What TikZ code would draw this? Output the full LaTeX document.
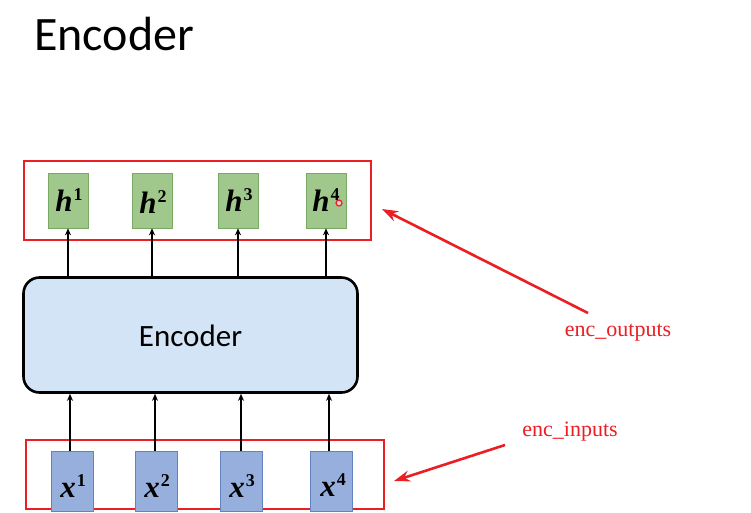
\documentclass[tikz,border=0pt]{standalone}
\usepackage{fontspec}
\newfontfamily\calfont{Carlito}
\newfontfamily\serifred{Liberation Serif}
\usetikzlibrary{arrows.meta}
\definecolor{hgreen}{RGB}{160,200,140}
\definecolor{hgreenb}{RGB}{120,170,100}
\definecolor{xblue}{RGB}{150,175,220}
\definecolor{xblueb}{RGB}{100,130,190}
\definecolor{encblue}{RGB}{210,228,245}
\definecolor{annred}{RGB}{235,30,35}
\newcommand{\vecsym}[2]{{\serifred\bfseries\itshape\fontsize{31}{31}\selectfont #1}\kern1pt\raisebox{11pt}{\serifred\bfseries\upshape\fontsize{18}{18}\selectfont #2}}
\tikzset{
  hbox/.style={draw=hgreenb, fill=hgreen, line width=0.6pt, minimum width=40pt, minimum height=55pt, inner sep=0pt},
  xbox/.style={draw=xblueb, fill=xblue, line width=0.6pt, minimum width=42pt, minimum height=60pt, inner sep=0pt},
  encbox/.style={draw=black, fill=encblue, line width=2.6pt, rounded corners=16pt, minimum width=334pt, minimum height=115pt, inner sep=0pt},
  redframe/.style={draw=annred, line width=1.6pt},
  flow/.style={-{Stealth[length=7pt,width=6pt]}, line width=1.6pt},
  annarrow/.style={annred, line width=2.6pt, -{Stealth[length=16pt,width=11pt]}},
  anntext/.style={text=annred, font=\serifred\fontsize{22}{22}\selectfont, inner sep=1pt},
}
\begin{document}
\begin{tikzpicture}[x=1pt,y=-1pt]
\useasboundingbox (0,0) rectangle (751,512);
\node[font=\calfont\fontsize{48}{48}\selectfont, anchor=base west, inner sep=0pt] (title) at (34,50) {Encoder};
% red frames
\node[redframe, minimum width=347pt, minimum height=79pt, inner sep=0pt, anchor=north west] (topframe) at (23,160) {};
\node[redframe, minimum width=358pt, minimum height=69pt, inner sep=0pt, anchor=north west] (botframe) at (25,439) {};
% encoder
\node[encbox] (enc) at (190.5,335) {};
\node[font=\calfont\fontsize{31}{31}\selectfont] (enclabel) at (190.5,336) {Encoder};
% h boxes
\node[hbox] (h1) at (68,200.5) {};
\node[hbox] (h2) at (152,200.5) {};
\node[hbox] (h3) at (238,200.5) {};
\node[hbox] (h4) at (326,200.5) {};
\node[anchor=base, inner sep=0pt] (h1t) at (69,211) {\vecsym{h}{1}};
\node[anchor=base, inner sep=0pt] (h2t) at (153,213) {\vecsym{h}{2}};
\node[anchor=base, inner sep=0pt] (h3t) at (239,211) {\vecsym{h}{3}};
\node[anchor=base, inner sep=0pt] (h4t) at (326,211) {\vecsym{h}{4}};
% x boxes
\node[xbox] (x1) at (72,481) {};
\node[xbox] (x2) at (156,481) {};
\node[xbox] (x3) at (241,481) {};
\node[xbox] (x4) at (331,481) {};
\node[anchor=base, inner sep=0pt] (x1t) at (73,497) {\vecsym{x}{1}};
\node[anchor=base, inner sep=0pt] (x2t) at (157,497) {\vecsym{x}{2}};
\node[anchor=base, inner sep=0pt] (x3t) at (242,497) {\vecsym{x}{3}};
\node[anchor=base, inner sep=0pt] (x4t) at (333,496) {\vecsym{x}{4}};
% flow arrows
\draw[flow] (h1.south |- enc.north) -- (h1.south);
\draw[flow] (h2.south |- enc.north) -- (h2.south);
\draw[flow] (h3.south |- enc.north) -- (h3.south);
\draw[flow] (h4.south |- enc.north) -- (h4.south);
\draw[flow] ([xshift=-2pt]x1.north) -- ([xshift=-2pt]x1.north |- enc.south);
\draw[flow] ([xshift=-1pt]x2.north) -- ([xshift=-1pt]x2.north |- enc.south);
\draw[flow] (x3.north) -- (x3.north |- enc.south);
\draw[flow] ([xshift=-2pt]x4.north) -- ([xshift=-2pt]x4.north |- enc.south);
% pointer dot
\node[circle, draw=annred, line width=1.2pt, fill=annred!25, minimum size=6pt, inner sep=0pt] (dot) at (339,203) {};
% annotations
\node[anntext] (outlbl) at (618,333) {enc\_outputs};
\node[anntext] (inlbl) at (570,432) {enc\_inputs};
\coordinate (outstart) at (588,313);
\coordinate (outend) at (382,209);
\coordinate (instart) at (505,445);
\coordinate (inend) at (394,481);
\draw[annarrow] (outstart) -- (outend);
\draw[annarrow] (instart) -- (inend);
\end{tikzpicture}
\end{document}
